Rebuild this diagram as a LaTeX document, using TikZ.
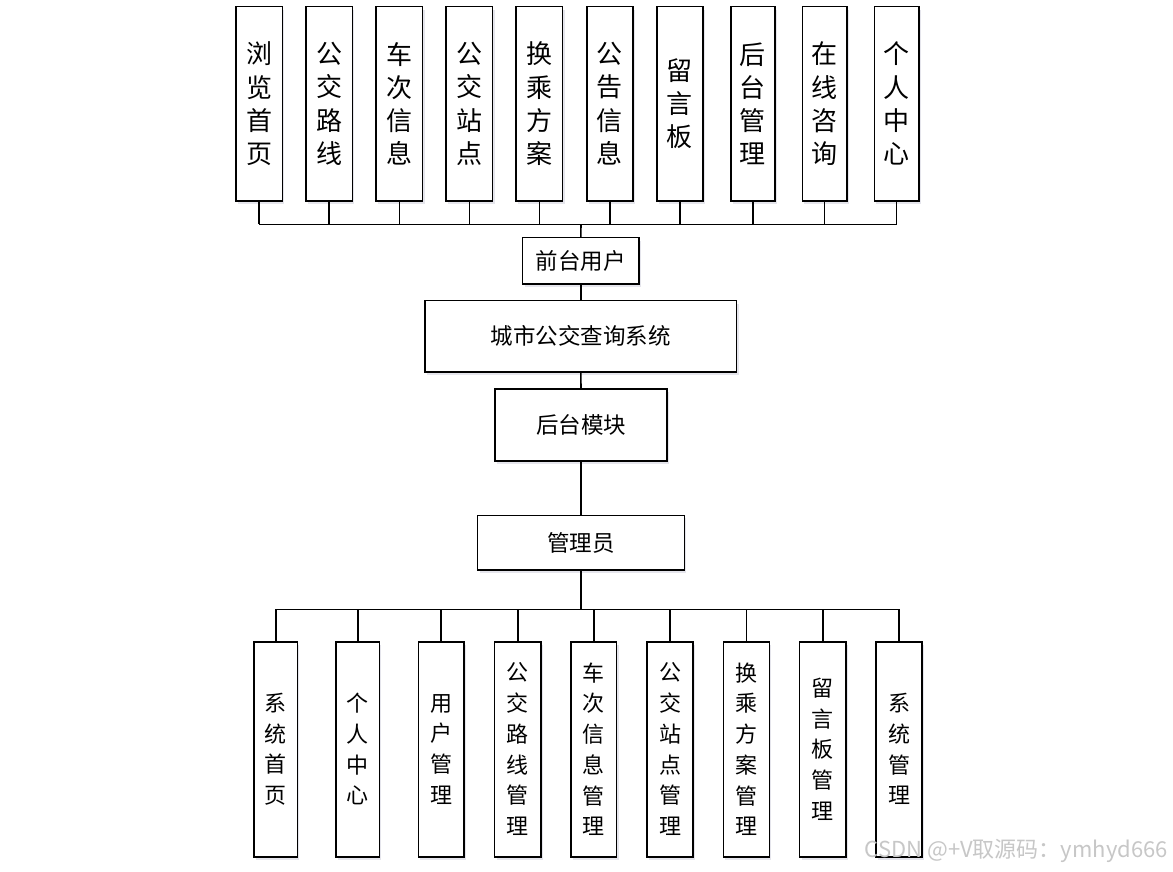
\documentclass[tikz,border=0pt]{standalone}
\usepackage{fontspec}
\newfontfamily\cjk{Noto Sans CJK SC}
\usetikzlibrary{shadows}
\begin{document}
\begin{tikzpicture}[x=1pt,y=-1pt,
  box/.style={draw=black, line width=1.6pt, fill=white, inner sep=0pt,
    drop shadow={shadow xshift=2pt, shadow yshift=-3pt, fill=blue!30!black, opacity=0.10}},
  vtop/.style={box, align=center, font=\cjk\fontsize{26}{33.3}\selectfont, minimum height=194.3pt},
  vbot/.style={box, align=center, font=\cjk\fontsize{22}{30.7}\selectfont, minimum height=215pt},
  hbox/.style={box, font=\cjk\fontsize{22.5}{26}\selectfont},
  conn/.style={draw=black, line width=1.6pt},
  wm/.style={text=black!22, font=\cjk\fontsize{22}{26}\selectfont, inner sep=0pt}
]
\fill[white] (0,0) rectangle (1173,871);
\useasboundingbox (0,0) rectangle (1173,871);

% top row
\node[vtop, minimum width=46.6pt] (t1) at (259,103.8) {浏\\览\\首\\页};
\node[vtop, minimum width=46.6pt] (t2) at (329,103.8) {公\\交\\路\\线};
\node[vtop, minimum width=46.6pt] (t3) at (399.3,103.8) {车\\次\\信\\息};
\node[vtop, minimum width=46.6pt] (t4) at (469.3,103.8) {公\\交\\站\\点};
\node[vtop, minimum width=46.6pt] (t5) at (539.3,103.8) {换\\乘\\方\\案};
\node[vtop, minimum width=46pt] (t6) at (609.7,103.8) {公\\告\\信\\息};
\node[vtop, minimum width=46pt] (t7) at (679.7,103.8) {留\\言\\板};
\node[vtop, minimum width=44pt] (t8) at (752.7,103.8) {后\\台\\管\\理};
\node[vtop, minimum width=44.4pt] (t9) at (824.5,103.8) {在\\线\\咨\\询};
\node[vtop, minimum width=44.4pt] (t10) at (896.5,103.8) {个\\人\\中\\心};

\coordinate (busT) at (581,224.3);
\foreach \n in {1,...,10} { \draw[conn] (t\n.south) -- (t\n.south |- busT); }
\draw[conn] (t1.south |- busT) -- (t10.south |- busT);

% middle column
\node[hbox, minimum width=116.3pt, minimum height=46.3pt] (front) at (580.8,260.8) {前台用户};
\node[hbox, minimum width=311.7pt, minimum height=71.3pt] (sys) at (580.8,336.3) {城市公交查询系统};
\node[hbox, minimum width=172.3pt, minimum height=72pt] (back) at (581,424.7) {后台模块};
\node[hbox, minimum width=206.7pt, minimum height=54.7pt] (admin) at (581,542.7) {管理员};

\draw[conn] (busT) -- (front.north);
\draw[conn] (front.south) -- (sys.north);
\draw[conn] (sys.south) -- (back.north);
\draw[conn] (back.south) -- (admin.north);

% bottom row
\node[vbot, minimum width=43.3pt] (b1) at (275.7,749.2) {系\\统\\首\\页};
\node[vbot, minimum width=43.3pt] (b2) at (357.7,749.2) {个\\人\\中\\心};
\node[vbot, minimum width=45.7pt] (b3) at (441.2,749.2) {用\\户\\管\\理};
\node[vbot, minimum width=46.3pt] (b4) at (517.8,749.2) {公\\交\\路\\线\\管\\理};
\node[vbot, minimum width=45.5pt] (b5) at (593.8,749.2) {车\\次\\信\\息\\管\\理};
\node[vbot, minimum width=46pt] (b6) at (670,749.2) {公\\交\\站\\点\\管\\理};
\node[vbot, minimum width=46pt] (b7) at (746.4,749.2) {换\\乘\\方\\案\\管\\理};
\node[vbot, minimum width=46.4pt] (b8) at (822.8,749.2) {留\\言\\板\\管\\理};
\node[vbot, minimum width=45.7pt] (b9) at (899,749.2) {系\\统\\管\\理};

\coordinate (busB) at (581,609.3);
\draw[conn] (admin.south) -- (busB);
\foreach \n in {1,...,9} { \draw[conn] (b\n.north) -- (b\n.north |- busB); }
\draw[conn] (b1.north |- busB) -- (b9.north |- busB);

% watermark
\node[wm, anchor=east] (wmark) at (1168,851) {CSDN @+V取源码：ymhyd666};
\end{tikzpicture}
\end{document}
